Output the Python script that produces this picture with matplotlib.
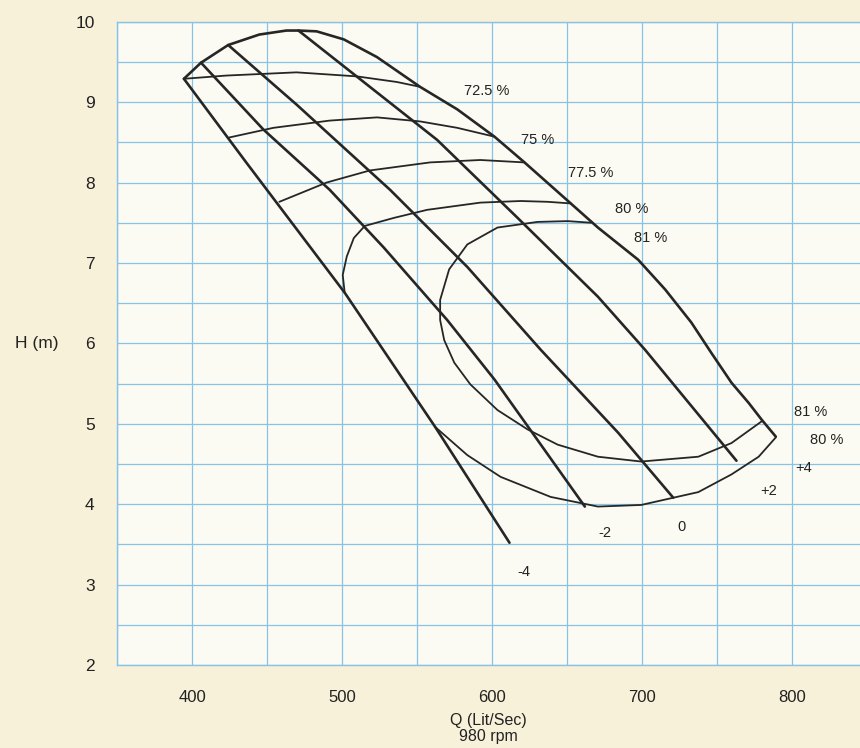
import matplotlib
matplotlib.use("Agg")
import matplotlib.pyplot as plt
import matplotlib.transforms as mtransforms

plt.rcParams['font.family'] = ['Liberation Sans', 'DejaVu Sans']

# ---- impeller diameter lines (Q in Lit/Sec, H in m) ----
dm4_q = [394.6, 436.1, 501.7, 562.0, 611.5]
dm4_h = [9.29, 8.25, 6.63, 4.96, 3.52]

dm2_q = [406.0, 447.5, 491.7, 527.8, 570.0, 601.5, 661.7]
dm2_h = [9.49, 8.66, 7.91, 7.19, 6.29, 5.55, 3.97]

d0_q = [424.1, 469.6, 531.9, 583.4, 632.3, 683.8, 720.6]
d0_h = [9.71, 8.97, 7.91, 6.95, 5.92, 4.89, 4.08]

dp2_q = [470.9, 563.3, 616.9, 670.4, 701.8, 762.7]
dp2_h = [9.89, 8.53, 7.56, 6.58, 5.92, 4.54]

# outer envelope (+4)
dp4_q = [394.6, 406.0, 424.1, 444.8, 462.9, 470.9, 483.0, 501.1, 523.2, 551.9,
         576.7, 601.5, 621.5, 652.3, 670.4, 697.2, 715.2, 732.6, 746.0, 759.4,
         770.8, 779.5, 788.9]
dp4_h = [9.29, 9.49, 9.71, 9.84, 9.89, 9.89, 9.88, 9.78, 9.56, 9.19,
         8.91, 8.57, 8.25, 7.74, 7.44, 7.04, 6.67, 6.26, 5.88, 5.51,
         5.26, 5.05, 4.84]

# ---- efficiency curves ----
e725_q = [394.6, 422.8, 469.6, 509.8, 536.5, 551.9]
e725_h = [9.29, 9.33, 9.37, 9.32, 9.25, 9.19]

e75_q = [424.8, 454.2, 491.7, 523.2, 551.9, 576.7, 601.5]
e75_h = [8.56, 8.68, 8.77, 8.81, 8.76, 8.68, 8.57]

e775_q = [458.2, 489.7, 518.5, 558.6, 592.1, 621.5]
e775_h = [7.76, 8.00, 8.15, 8.25, 8.28, 8.25]

e80u_q = [501.7, 500.4, 503.1, 507.8, 515.1, 534.5, 556.6, 592.1, 618.9, 636.9, 652.3]
e80u_h = [6.63, 6.85, 7.08, 7.31, 7.46, 7.56, 7.66, 7.75, 7.77, 7.76, 7.74]

e80l_q = [562.0, 583.4, 605.5, 638.9, 670.4, 699.2, 737.3, 759.4, 777.5, 788.9]
e80l_h = [4.96, 4.61, 4.34, 4.09, 3.97, 3.99, 4.15, 4.37, 4.59, 4.83]

e81_q = [665.7, 650.3, 630.2, 603.5, 583.4, 571.3, 565.3, 565.3, 568.0, 574.7,
         585.4, 603.5, 623.5, 643.6, 670.4, 699.2, 737.3, 759.4, 779.5]
e81_h = [7.50, 7.52, 7.51, 7.44, 7.23, 6.92, 6.54, 6.29, 6.04, 5.76,
         5.49, 5.17, 4.93, 4.74, 4.59, 4.53, 4.59, 4.76, 5.03]

# ---- labels ----
lab_text = ['72.5 %', '75 %', '77.5 %', '80 %', '81 %', '81 %', '80 %',
            '+4', '+2', '0', '-2', '-4']
lab_q = [596.1, 630.2, 665.7, 693.2, 705.2, 812.3, 823.0, 807.6, 784.2, 726.0, 675.1, 620.9]
lab_h = [9.14, 8.53, 8.12, 7.67, 7.31, 5.14, 4.80, 4.45, 4.16, 3.72, 3.64, 3.16]

xticks = [400, 500, 600, 700, 800]
yticks = [2, 3, 4, 5, 6, 7, 8, 9, 10]
xgrid = [350, 400, 450, 500, 550, 600, 650, 700, 750, 800]
ygrid = [2, 2.5, 3, 3.5, 4, 4.5, 5, 5.5, 6, 6.5, 7, 7.5, 8, 8.5, 9, 9.5, 10]

fig = plt.figure(figsize=(8.6, 7.48), dpi=100)
fig.patch.set_facecolor('#f7f1da')
ax = fig.add_axes([0.136, 0.111, 0.864, 0.860])
ax.set_facecolor('#fcfbf3')

ax.set_xlim(350, 845)
ax.set_ylim(2, 10)

# grid
gcol = '#86c3e6'
for xv in xgrid:
    ax.axvline(xv, color=gcol, linewidth=0.9, zorder=0)
for yv in ygrid:
    ax.axhline(yv, color=gcol, linewidth=0.9, zorder=0)

ax.set_xticks(xticks)
ax.set_xticklabels([str(v) for v in xticks])
ax.set_yticks(yticks)
ax.set_yticklabels([str(v) for v in yticks])
ax.tick_params(which='both', length=0)
ax.tick_params(axis='x', pad=18, labelsize=12, colors='#222222')
ax.tick_params(axis='y', pad=16, labelsize=12.5, colors='#222222')

for s in ['left', 'bottom', 'top']:
    ax.spines[s].set_color(gcol)
    ax.spines[s].set_linewidth(1.0)
ax.spines['right'].set_visible(False)

lc = '#262626'
for q, h in [(dm4_q, dm4_h), (dm2_q, dm2_h), (d0_q, d0_h), (dp2_q, dp2_h), (dp4_q, dp4_h)]:
    ax.plot(q, h, color=lc, linewidth=1.9, solid_joinstyle='round', solid_capstyle='round')

for q, h in [(e725_q, e725_h), (e75_q, e75_h), (e775_q, e775_h), (e80u_q, e80u_h),
             (e80l_q, e80l_h), (e81_q, e81_h)]:
    ax.plot(q, h, color=lc, linewidth=1.3, solid_joinstyle='round', solid_capstyle='round')

for t, q, h in zip(lab_text, lab_q, lab_h):
    ax.text(q, h, t, fontsize=10.5, ha='center', va='center', color='#222222')

trans = mtransforms.blended_transform_factory(ax.transAxes, ax.transData)
ax.text(-0.108, 6, 'H (m)', transform=trans, fontsize=12.5, ha='center', va='center',
        color='#222222')

ax.set_xlabel('Q (Lit/Sec)\n980 rpm', fontsize=11.5, labelpad=6, linespacing=1.05,
              color='#222222')

fig.savefig('out.png', dpi=100, facecolor=fig.get_facecolor())
